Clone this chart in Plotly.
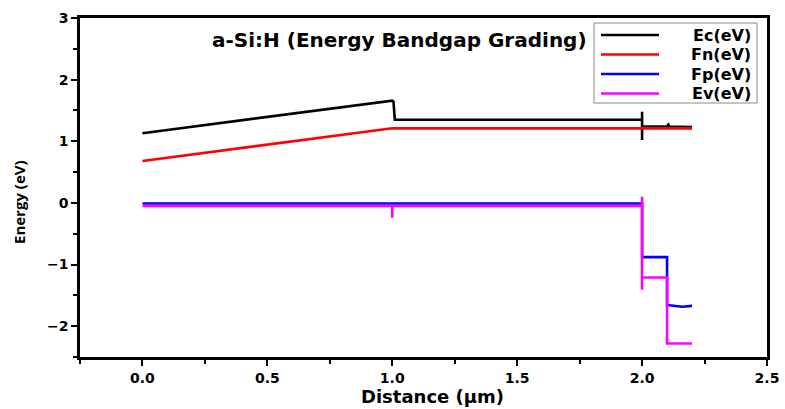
import plotly.graph_objects as go

# Data
ec_x = [0.0, 1.0, 1.005, 1.01, 2.0, 2.0, 2.0, 2.0, 2.1, 2.105, 2.11, 2.2]
ec_y = [1.13, 1.66, 1.64, 1.35, 1.35, 1.48, 1.02, 1.24, 1.24, 1.27, 1.24, 1.23]

fn_x = [0.0, 0.97, 1.0, 1.03, 2.2]
fn_y = [0.68, 1.19, 1.21, 1.21, 1.21]

fp_x = [0.0, 2.0, 2.0, 2.1, 2.1, 2.11, 2.16, 2.2]
fp_y = [-0.01, -0.01, -0.88, -0.88, -1.66, -1.66, -1.685, -1.67]

ev_x = [0.0, 1.0, 1.0, 1.0, 2.0, 2.0, 2.0, 2.0, 2.1, 2.1, 2.2]
ev_y = [-0.05, -0.05, -0.24, -0.05, -0.05, 0.1, -1.41, -1.21, -1.21, -2.28, -2.28]

names = ["Ec(eV)", "Fn(eV)", "Fp(eV)", "Ev(eV)"]
colors = ["#000000", "#ff0000", "#0000ff", "#ff00ff"]
xs_all = [ec_x, fn_x, fp_x, ev_x]
ys_all = [ec_y, fn_y, fp_y, ev_y]

title_text = "a-Si:H (Energy Bandgap Grading)"
x_title = "Distance (μm)"
y_title = "Energy (eV)"
x_ticks = [0.0, 0.5, 1.0, 1.5, 2.0, 2.5]
y_ticks = [-2, -1, 0, 1, 2, 3]

W, H = 785, 409
ML, MR, MT, MB = 80, 18, 18, 52
PW, PH = W - ML - MR, H - MT - MB


def px(xp):
    return (xp - ML) / PW


def py(yp):
    return 1 - (yp - MT) / PH


fig = go.Figure()
for name, xs, ys, col in zip(names, xs_all, ys_all, colors):
    fig.add_trace(go.Scatter(x=xs, y=ys, mode="lines", name=name,
                             line=dict(color=col, width=2.6), showlegend=False))

tickfont = dict(family="DejaVu Sans", size=14, color="black", weight="bold")
axis_common = dict(showline=True, linecolor="black", linewidth=2.5, mirror=True,
                   ticks="outside", ticklen=6, tickwidth=2, tickcolor="black",
                   showgrid=False, zeroline=False, tickfont=tickfont, automargin=False)

fig.update_xaxes(range=[-0.25, 2.5], tickvals=x_ticks,
                 ticktext=[f"{v:.1f}" for v in x_ticks],
                 minor=dict(dtick=0.25, ticks="outside", ticklen=4, tickwidth=2, tickcolor="black"),
                 **axis_common)
fig.update_yaxes(range=[-2.5, 3], tickvals=y_ticks,
                 minor=dict(dtick=0.5, ticks="outside", ticklen=4, tickwidth=2, tickcolor="black"),
                 **axis_common)

# axis titles
fig.add_annotation(text=x_title, x=px(432), y=py(396), xref="paper", yref="paper",
                   showarrow=False, xanchor="center", yanchor="middle",
                   font=dict(family="DejaVu Sans", size=18, color="#000000", weight="bold"))
fig.add_annotation(text=y_title, x=px(19), y=py(202), xref="paper", yref="paper",
                   showarrow=False, textangle=-90, xanchor="center", yanchor="middle",
                   font=dict(family="Open Sans", size=15, color="#000000", weight="bold"))

fig.add_annotation(text=title_text, x=px(399), y=py(40), xref="paper", yref="paper",
                   showarrow=False, xanchor="center", yanchor="middle",
                   font=dict(family="DejaVu Sans", size=20, color="#000000", weight="bold"))

# Legend drawn as a boxed key in the upper right
fig.add_shape(type="rect", xref="paper", yref="paper",
              x0=px(594), x1=px(757), y0=py(103), y1=py(23),
              line=dict(color="#888888", width=1), fillcolor="white", layer="above")
row_y = [35, 54.5, 74, 93.5]
for name, col, ry in zip(names, colors, row_y):
    fig.add_shape(type="line", xref="paper", yref="paper",
                  x0=px(601), x1=px(659), y0=py(ry), y1=py(ry),
                  line=dict(color=col, width=2.5), layer="above")
    fig.add_annotation(text=name, x=px(753), y=py(ry), xref="paper", yref="paper",
                       showarrow=False, xanchor="right", yanchor="middle",
                       font=dict(family="DejaVu Sans", size=16, color="#000000", weight="bold"))

fig.update_layout(
    width=W, height=H,
    margin=dict(l=ML, r=MR, t=MT, b=MB, autoexpand=False),
    plot_bgcolor="white", paper_bgcolor="white",
    showlegend=False,
)

fig.write_html("out.html")
